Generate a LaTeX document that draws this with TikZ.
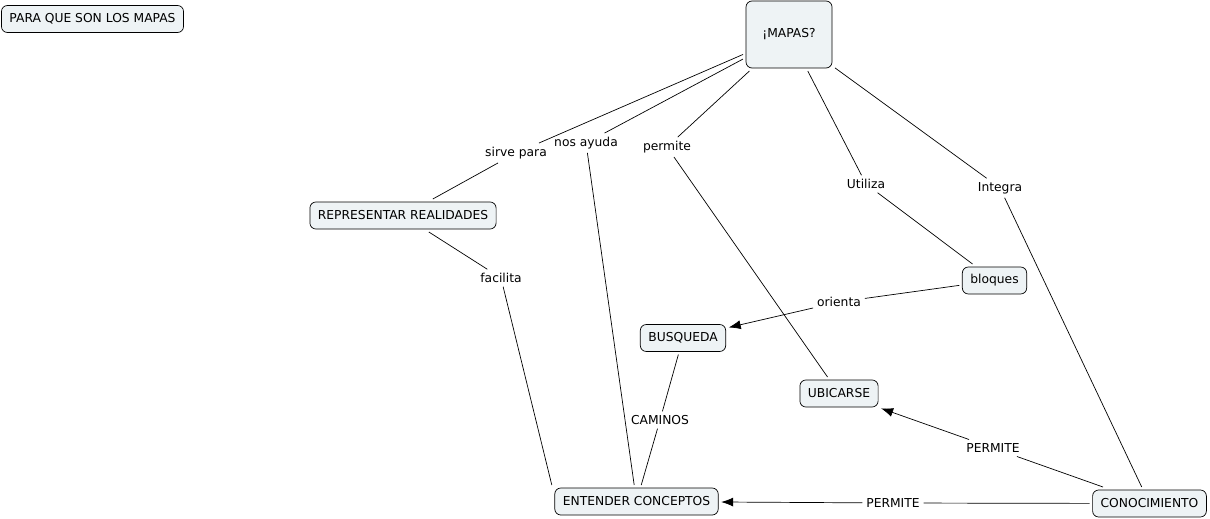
\documentclass[tikz,border=0pt]{standalone}
\usepackage{fontspec}
\setmainfont{DejaVu Sans}
\usetikzlibrary{arrows.meta, positioning}
\definecolor{cfill}{RGB}{238,243,245}

\begin{document}
\begin{tikzpicture}[x=1pt, y=-1pt, >={Latex[length=12pt,width=9pt]}, line width=.7pt,
  concept/.style={draw, rounded corners=6pt, fill=cfill, font=\fontsize{12.3}{14}\selectfont,
    inner xsep=8pt, minimum height=27pt, outer sep=3pt},
  lnk/.style={font=\fontsize{12.3}{14}\selectfont, inner sep=2pt, outer sep=2pt}]
\useasboundingbox (0,0) rectangle (1210,519);
% concepts
\node[concept] (para) at (92.5,19) {PARA QUE SON LOS MAPAS};
\node[concept, minimum width=86pt, minimum height=67pt] (mapas) at (789,34.5) {¡MAPAS?};
\node[concept] (repr) at (403,215.5) {REPRESENTAR REALIDADES};
\node[concept] (bloques) at (994.5,280.5) {bloques};
\node[concept] (busq) at (683,338) {BUSQUEDA};
\node[concept] (ubic) at (839,393.5) {UBICARSE};
\node[concept] (entender) at (636.5,501.5) {ENTENDER CONCEPTOS};
\node[concept] (conoc) at (1149.5,503.5) {CONOCIMIENTO};
% linking phrases
\node[lnk] (sirve) at (516,153) {sirve para};
\node[lnk] (ayuda) at (586,143) {nos ayuda};
\node[lnk] (permite) at (667,147) {permite};
\node[lnk] (utiliza) at (866,184) {Utiliza};
\node[lnk] (integra) at (1000,188) {Integra};
\node[lnk] (facilita) at (501,278) {facilita};
\node[lnk] (orienta) at (839,302) {orienta};
\node[lnk] (caminos) at (660,420) {CAMINOS};
\node[lnk] (perm1) at (993,448) {PERMITE};
\node[lnk] (perm2) at (893,503) {PERMITE};
% links
\draw (mapas) -- (sirve) -- (repr);
\draw (mapas) -- (ayuda) -- (entender);
\draw (mapas) -- (permite) -- (ubic);
\draw (mapas) -- (utiliza) -- (bloques);
\draw (mapas) -- (integra) -- (conoc);
\draw (repr) -- (facilita) -- (entender.north west);
\draw (bloques) -- (orienta);
\draw[->] (orienta) -- (busq);
\draw (busq) -- (caminos) -- (entender);
\draw (conoc) -- (perm1);
\draw[->] (perm1) -- (ubic);
\draw (conoc) -- (perm2);
\draw[->] (perm2) -- (entender);
\end{tikzpicture}
\end{document}
